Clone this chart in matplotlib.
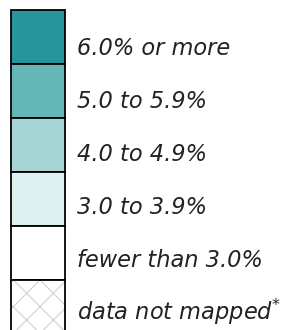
import matplotlib
matplotlib.use('Agg')
import matplotlib.pyplot as plt
from matplotlib.patches import Rectangle

# legend classes, top to bottom
labels = ['6.0% or more', '5.0 to 5.9%', '4.0 to 4.9%', '3.0 to 3.9%',
          'fewer than 3.0%', 'data not mapped$^{*}$']
colors = ['#27969b', '#65b6b6', '#a7d5d6', '#dff0f0', '#ffffff', '#ffffff']
hatches = [None, None, None, None, None, 'x']

plt.rcParams['hatch.linewidth'] = 1.0
plt.rcParams['hatch.color'] = '#d2d2d2'

# 80 dpi so the hatch pattern repeats a bit tighter, still 288x330 px
DPI = 80
fig = plt.figure(figsize=(288 / DPI, 330 / DPI), dpi=DPI)
ax = fig.add_axes([0, 0, 1, 1])
ax.set_xlim(0, 288)
ax.set_ylim(330, 0)
ax.axis('off')

x0, w, y0, h = 11, 54, 10, 54
for i, (lab, c, hat) in enumerate(zip(labels, colors, hatches)):
    y = y0 + i * h
    if hat:
        ax.add_patch(Rectangle((x0, y), w, h, facecolor=c, edgecolor='#d2d2d2',
                               hatch=hat, linewidth=0))
        ax.add_patch(Rectangle((x0, y), w, h, facecolor='none', edgecolor='black',
                               linewidth=1.6))
    else:
        ax.add_patch(Rectangle((x0, y), w, h, facecolor=c, edgecolor='black',
                               linewidth=1.6))
    ax.text(77, 55 + i * 53, lab, fontsize=20.3, style='italic',
            family='DejaVu Sans', color='#222222', va='baseline', ha='left')

fig.savefig('out.png', dpi=DPI)
